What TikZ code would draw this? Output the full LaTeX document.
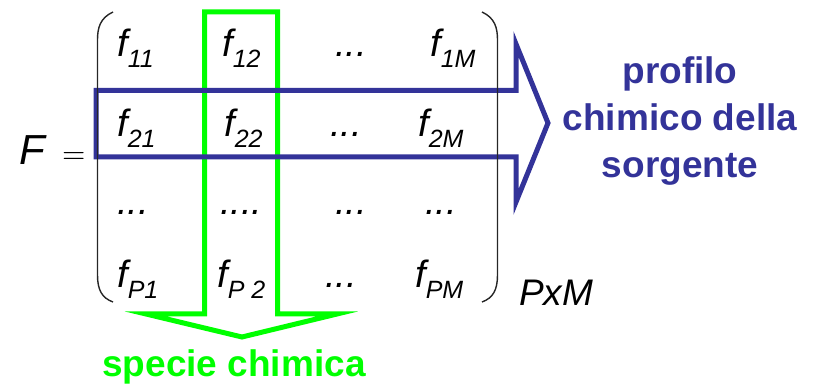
\documentclass[tikz,border=0pt]{standalone}
\usepackage{fontspec}
\setmainfont{Liberation Sans}
\definecolor{myblue}{RGB}{51,51,153}
\definecolor{mygreen}{RGB}{0,255,0}
\begin{document}
\begin{tikzpicture}[x=1pt,y=-1pt,
  ent/.style={anchor=base west,inner sep=0pt,font=\fontsize{38}{40}\selectfont\itshape},
  lbl/.style={inner sep=0pt,font=\fontsize{37}{47}\selectfont\bfseries,align=center},
  paren/.style={draw=black!85,line width=1.4pt},
  arrowbox/.style={line width=5pt,line join=miter}]
\useasboundingbox (0,0) rectangle (814,387);
\newcommand{\fsub}[1]{f\raisebox{-0.28em}{\fontsize{25}{25}\selectfont #1}}
% green arrow
\coordinate (g1) at (204.5,12);
\coordinate (g2) at (277.5,12);
\coordinate (g3) at (277.5,314);
\coordinate (g4) at (337,314);
\coordinate (g5) at (242,337);
\coordinate (g6) at (146,314);
\coordinate (g7) at (204.5,314);
\draw[arrowbox,draw=mygreen] (g1) -- (g2) -- (g3) -- (g4) -- (g5) -- (g6) -- (g7) -- cycle;
% blue arrow
\coordinate (b1) at (96,90.5);
\coordinate (b2) at (516,90.5);
\coordinate (b3) at (516,44);
\coordinate (b4) at (548,123);
\coordinate (b5) at (516,202);
\coordinate (b6) at (516,157);
\coordinate (b7) at (96,157);
\draw[arrowbox,draw=myblue] (b1) -- (b2) -- (b3) -- (b4) -- (b5) -- (b6) -- (b7) -- cycle;
% parentheses
\coordinate (pl1) at (113,12);
\coordinate (pl2) at (97.5,40);
\coordinate (pl3) at (97.5,275);
\coordinate (pl4) at (113,302);
\draw[paren] (pl1) .. controls (100,18) and (97.5,28) .. (pl2) -- (pl3) .. controls (97.5,290) and (102,298) .. (pl4);
\coordinate (pr1) at (482,12);
\coordinate (pr2) at (497.5,40);
\coordinate (pr3) at (497.5,275);
\coordinate (pr4) at (482,302);
\draw[paren] (pr1) .. controls (495,18) and (497.5,28) .. (pr2) -- (pr3) .. controls (497.5,290) and (493,298) .. (pr4);
% F =
\node[anchor=base west,inner sep=0pt,font=\fontsize{42}{44}\selectfont\itshape] (F) at (19,165) {F};
\node[anchor=base west,inner sep=0pt] (eq) at (62,164) {\scalebox{3}{$=$}};
% entries
\node[ent] (e11) at (117,57) {\fsub{11}};
\node[ent] (e12) at (222,57) {\fsub{12}};
\node[ent] (e13) at (335,57) {...};
\node[ent] (e14) at (430,57) {\fsub{1M}};
\node[ent] (e21) at (117,137) {\fsub{21}};
\node[ent] (e22) at (224,137) {\fsub{22}};
\node[ent] (e23) at (330,137) {...};
\node[ent] (e24) at (418,137) {\fsub{2M}};
\node[ent] (e31) at (117,215) {...};
\node[ent] (e32) at (220,215) {....};
\node[ent] (e33) at (335,215) {...};
\node[ent] (e34) at (425,215) {...};
\node[ent] (e41) at (117,288) {\fsub{P1}};
\node[ent] (e42) at (217,288) {\fsub{P 2}};
\node[ent] (e43) at (325,288) {...};
\node[ent] (e44) at (415,288) {\fsub{PM}};
\node[anchor=base west,inner sep=0pt,font=\fontsize{37}{40}\selectfont\itshape] (pxm) at (519,306) {PxM};
% labels
\node[lbl,text=myblue] (prof) at (680,121) {profilo\\chimico della\\sorgente};
\node[lbl,text=mygreen,anchor=base] (spec) at (234,377) {specie chimica};
\end{tikzpicture}
\end{document}
